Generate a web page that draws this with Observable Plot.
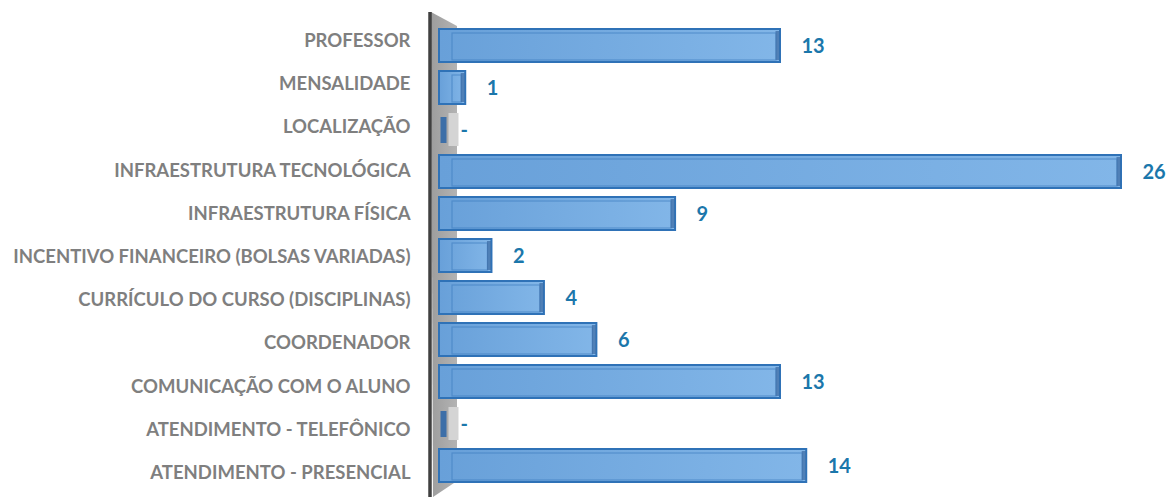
<!DOCTYPE html>
<html><head><meta charset="utf-8">
<script src="https://cdn.jsdelivr.net/npm/d3@7"></script>
<script src="https://cdn.jsdelivr.net/npm/@observablehq/plot@0.6"></script>
<style>body{margin:0;background:#fff}</style>
</head><body><div id="chart"></div>
<script>
const categories = [
  "PROFESSOR",
  "MENSALIDADE",
  "LOCALIZAÇÃO",
  "INFRAESTRUTURA TECNOLÓGICA",
  "INFRAESTRUTURA FÍSICA",
  "INCENTIVO FINANCEIRO (BOLSAS VARIADAS)",
  "CURRÍCULO DO CURSO (DISCIPLINAS)",
  "COORDENADOR",
  "COMUNICAÇÃO COM O ALUNO",
  "ATENDIMENTO - TELEFÔNICO",
  "ATENDIMENTO - PRESENCIAL"
];
const values = [13, 1, 0, 26, 9, 2, 4, 6, 13, 0, 14];

const data = categories.map((c, i) => ({label: c, value: values[i]}));
const nonzero = data.filter(d => d.value > 0);
const zeros = data.filter(d => d.value === 0);

const FONT = "Lato, 'Open Sans', sans-serif";

const defs = () => {
  const g = d3.create("svg:defs");
  const lg = g.append("linearGradient").attr("id", "barGrad").attr("x1", 0).attr("x2", 1).attr("y1", 0).attr("y2", 0);
  lg.append("stop").attr("offset", "0%").attr("stop-color", "#68a0d9");
  lg.append("stop").attr("offset", "100%").attr("stop-color", "#82b6e8");
  const wg = g.append("linearGradient").attr("id", "wallGrad").attr("x1", 0).attr("x2", 1).attr("y1", 0).attr("y2", 0);
  wg.append("stop").attr("offset", "0%").attr("stop-color", "#9d9d9d");
  wg.append("stop").attr("offset", "100%").attr("stop-color", "#b3b3b3");
  return g.node();
};

const wall = (index, scales, values, dims) => {
  const x0 = scales.x(0);
  const top = 12, bottom = dims.height;
  const g = d3.create("svg:g");
  g.append("polygon")
    .attr("points", [
      [x0 - 8, top], [x0 + 18, top + 14], [x0 + 18, bottom - 16], [x0 - 6, bottom]
    ].map(p => p.join(",")).join(" "))
    .attr("fill", "url(#wallGrad)");
  g.append("line")
    .attr("x1", x0 - 9).attr("x2", x0 - 9)
    .attr("y1", top).attr("y2", bottom)
    .attr("stroke", "#404040").attr("stroke-width", 3.5);
  return g.node();
};

const plot = Plot.plot({
  width: 1171,
  height: 497,
  marginLeft: 439,
  marginRight: 50,
  marginTop: 23,
  marginBottom: 10,
  style: {fontFamily: FONT, background: "#fff"},
  x: {domain: [0, 26], axis: null},
  y: {domain: categories, paddingInner: 0.22, paddingOuter: 0.1, label: null},
  marks: [
    defs,
    wall,
    Plot.axisY({tickSize: 0, tickPadding: 29, fontSize: 18.5, color: "#7f7f7f", label: null}),
    // zero-value stubs
    Plot.tickX(zeros, {x: 0, y: "label", dx: 14, stroke: "#d4d4d4", strokeWidth: 10, insetTop: 0, insetBottom: 0}),
    Plot.tickX(zeros, {x: 0, y: "label", dx: 4, stroke: "#3d6fa8", strokeWidth: 6, insetTop: 4, insetBottom: 3}),
    // main bars
    Plot.barX(nonzero, {x: "value", y: "label", fill: "url(#barGrad)", stroke: "#2f72b7", strokeWidth: 2}),
    // inner box edges (3D faces)
    Plot.barX(nonzero, {x: "value", y: "label", fill: "none", stroke: "#3d7dc0", strokeOpacity: 0.6, strokeWidth: 1.2, insetTop: 4, insetBottom: 2, insetLeft: 13, insetRight: 4}),
    // right end face
    Plot.tickX(nonzero, {x: "value", y: "label", dx: -3, stroke: "#3a6aa3", strokeOpacity: 0.7, strokeWidth: 4, insetTop: 2, insetBottom: 2}),
    // value labels
    Plot.text(data, {x: "value", y: "label", text: d => d.value === 0 ? "-" : String(d.value), dx: 21, dy: 1, textAnchor: "start", fill: "#1b77ab", fontSize: 20, fontWeight: "bold"})
  ]
});

const tl = d3.select(plot).select('g[aria-label="y-axis tick label"]').attr("font-weight", "bold");
tl.selectAll("text").attr("font-weight", "bold").each(function(d, i) {
  const t = this.getAttribute("transform") || "";
  this.setAttribute("transform", t + ` translate(0,${(-5 + 1.2 * i).toFixed(1)})`);
});
document.getElementById("chart").appendChild(plot);
</script>
</body></html>
